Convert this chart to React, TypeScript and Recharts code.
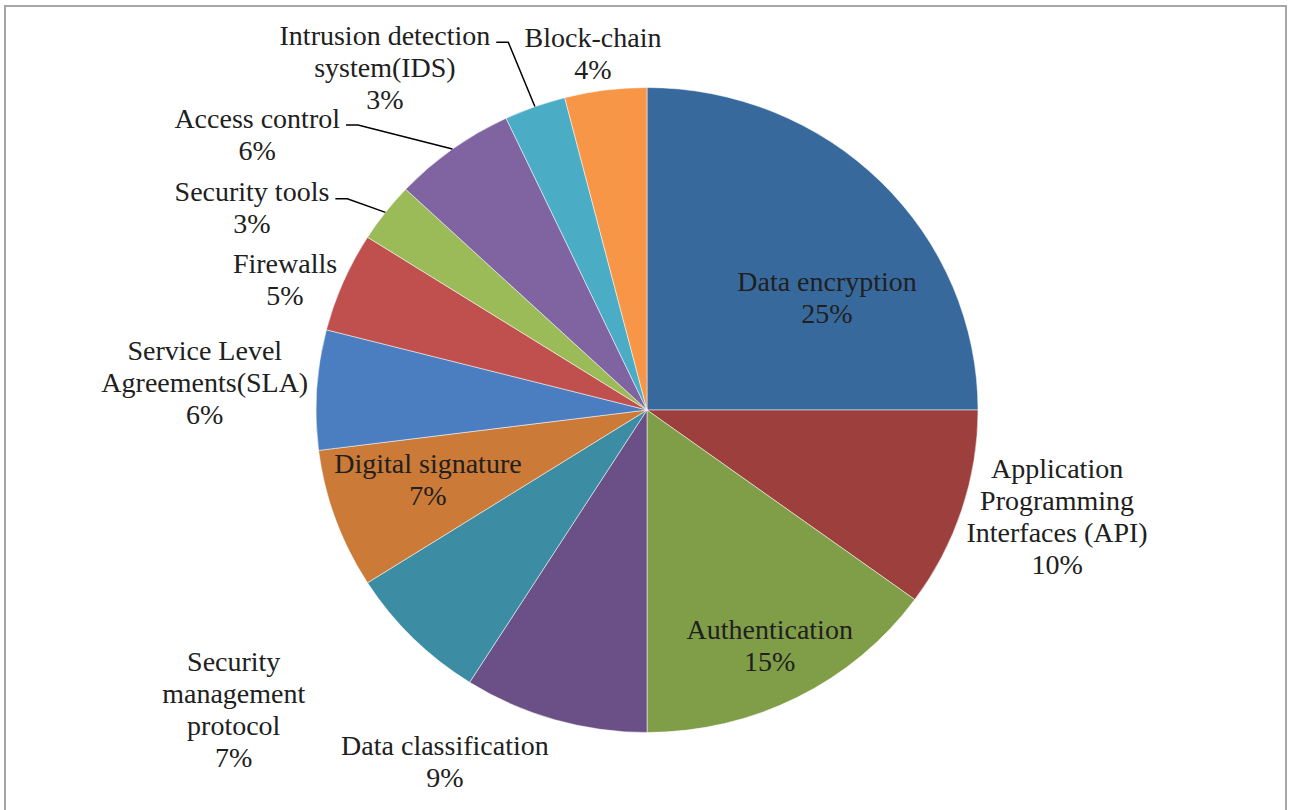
import React from 'react';
import { PieChart, Pie, Cell } from 'recharts';

// ---- data ----
const categories = [
  'Data encryption',
  'Application Programming Interfaces (API)',
  'Authentication',
  'Data classification',
  'Security management protocol',
  'Digital signature',
  'Service Level Agreements(SLA)',
  'Firewalls',
  'Security tools',
  'Access control',
  'Intrusion detection system(IDS)',
  'Block-chain',
];
const shares = [25, 10, 15, 9, 7, 7, 6, 5, 3, 6, 3, 4];
const labelLines = [
  ['Data encryption'],
  ['Application', 'Programming', 'Interfaces (API)'],
  ['Authentication'],
  ['Data classification'],
  ['Security', 'management', 'protocol'],
  ['Digital signature'],
  ['Service Level', 'Agreements(SLA)'],
  ['Firewalls'],
  ['Security tools'],
  ['Access control'],
  ['Intrusion detection', 'system(IDS)'],
  ['Block-chain'],
];

// ---- styles ----
const colors = [
  '#38699D', '#9C3F3D', '#809E47', '#6A5087', '#3C8DA3', '#CB7A37',
  '#4A7EC1', '#C0504D', '#9BBB59', '#8064A2', '#4BACC6', '#F79646',
];
// label placement relative to each slice's mid angle (rf: fraction of outer radius, da: angle shift in degrees)
const labelLayout = [
  { rf: 0.659, da: -12.9, leader: false },
  { rf: 1.314, da: 3.4, leader: false },
  { rf: 0.824, da: 0.5, leader: false },
  { rf: 1.257, da: -13.7, leader: false },
  { rf: 1.582, da: -9.1, leader: false },
  { rf: 0.713, da: -2.1, leader: false },
  { rf: 1.374, da: 0, leader: false },
  { rf: 1.193, da: 3.6, leader: false },
  { rf: 1.376, da: 10.7, leader: true },
  { rf: 1.481, da: 18.7, leader: true },
  { rf: 1.338, da: 17.6, leader: true },
  { rf: 1.119, da: 1.4, leader: false },
];

const CX = 647;
const CY = 410;
const OUTER_R = 322.5;
const STRETCH_X = 1.0264; // the reference pie is slightly wider than tall
const FONT_SIZE = 28;
const LINE_H = 32;
const FONT_FAMILY = '"Liberation Serif", "Times New Roman", "DejaVu Serif", serif';
const TEXT_COLOR = '#202020';
const RAD = Math.PI / 180;

let ctx: CanvasRenderingContext2D | null = null;
function measure(text: string): number {
  if (!ctx) {
    const c = document.createElement('canvas');
    ctx = c.getContext('2d');
  }
  if (!ctx) return text.length * FONT_SIZE * 0.45;
  ctx.font = `${FONT_SIZE}px ${FONT_FAMILY}`;
  return ctx.measureText(text).width;
}

const data = categories.map((name, i) => ({ name, value: shares[i] }));

function renderLabel(props: any) {
  const { cx, cy, midAngle, outerRadius, index, percent } = props;
  const lay = labelLayout[index];
  const a = (midAngle + lay.da) * RAD;
  const r = outerRadius * lay.rf;
  const x = cx + r * Math.cos(a);
  const y = cy - r * Math.sin(a);
  const lines = [...labelLines[index], `${Math.round(percent * 100)}%`];
  const top = y - ((lines.length - 1) * LINE_H) / 2;
  let leader = null;
  if (lay.leader) {
    const ma = midAngle * RAD;
    const ax = cx + outerRadius * STRETCH_X * Math.cos(ma);
    const ay = cy - outerRadius * Math.sin(ma);
    const w = measure(lines[0]);
    const c0x = x + w / 2 + 6;
    const c0y = top + 7;
    const bx = c0x + 12;
    leader = (
      <polyline
        points={`${ax},${ay} ${bx},${c0y} ${c0x},${c0y}`}
        fill="none"
        stroke="#000"
        strokeWidth={1.5}
      />
    );
  }
  return (
    <g key={`lbl-${index}`}>
      {leader}
      <text
        x={x}
        y={top}
        textAnchor="middle"
        fill={TEXT_COLOR}
        style={{ fontFamily: FONT_FAMILY, fontSize: FONT_SIZE }}
      >
        {lines.map((ln, i) => (
          <tspan key={i} x={x} y={top + i * LINE_H} dy="0.34em">
            {ln}
          </tspan>
        ))}
      </text>
    </g>
  );
}

const css = `.recharts-pie .recharts-sector { transform-origin: ${CX}px ${CY}px; transform: scaleX(${STRETCH_X}); }`;

export default function App() {
  return (
    <div
      style={{
        position: 'absolute',
        left: 0,
        top: 0,
        width: 1290,
        height: 810,
        overflow: 'hidden',
        background: '#fff',
      }}
    >
      <style>{css}</style>
      <div
        style={{
          position: 'absolute',
          left: 4,
          top: 5,
          width: 1283,
          height: 820,
          boxSizing: 'border-box',
          border: '2px solid #A6A6A6',
        }}
      />
      <div style={{ position: 'absolute', left: 0, top: 0 }}>
        <PieChart
          width={1290}
          height={810}
          margin={{ top: 0, right: 0, bottom: 0, left: 0 }}
        >
          <Pie
            data={data}
            dataKey="value"
            nameKey="name"
            cx={CX}
            cy={CY}
            outerRadius={OUTER_R}
            startAngle={90}
            endAngle={-270}
            stroke="#ffffff"
            strokeWidth={0.5}
            label={renderLabel}
            labelLine={false}
            isAnimationActive={false}
          >
            {data.map((d, i) => (
              <Cell key={d.name} fill={colors[i]} />
            ))}
          </Pie>
        </PieChart>
      </div>
    </div>
  );
}
